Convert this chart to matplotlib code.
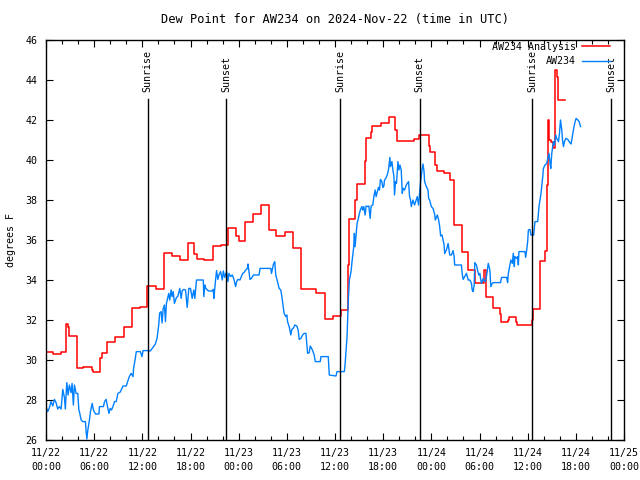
import matplotlib
matplotlib.use('Agg')
import matplotlib.pyplot as plt
import matplotlib.dates as mdates
import pandas as pd

# Data: hours after 2024-11-22 00:00 UTC, dew point in degrees F
start = pd.Timestamp('2024-11-22 00:00')

# AW234 Analysis (hourly, step plot)
ana_hours = [0.00, 0.84, 1.84, 2.46, 2.75, 2.88, 3.84, 3.91, 4.66, 5.79, 5.91, 6.75, 6.96,
             7.66, 8.62, 9.66, 10.71, 11.66, 12.62, 13.75, 14.66, 15.71, 16.75, 17.75, 18.38,
             18.75, 19.62, 20.75, 21.75, 22.69, 23.62, 24.00, 24.75, 25.75, 26.75, 27.75,
             28.62, 29.75, 30.75, 31.75, 33.62, 34.75, 35.75, 36.75, 37.62, 37.75, 38.50,
             38.75, 39.75, 39.81, 40.50, 40.62, 41.75, 42.75, 43.50, 43.75, 45.88, 46.50,
             47.75, 47.88, 48.50, 48.75, 49.62, 50.38, 50.88, 51.88, 52.62, 53.50, 54.59,
             54.75, 55.62, 56.50, 56.62, 57.50, 57.62, 58.50, 58.62, 60.50, 60.62, 61.50,
             62.12, 62.44, 62.56, 62.69, 62.88, 63.12, 63.44, 63.62, 63.75, 64.62]
ana_dewpt = [30.42, 30.30, 30.40, 31.80, 31.67, 31.20, 30.00, 29.60, 29.65, 29.50, 29.40, 30.10, 30.37,
             30.92, 31.15, 31.65, 32.60, 32.65, 33.70, 33.53, 35.33, 35.20, 35.00, 35.83, 35.30,
             35.05, 34.98, 35.70, 35.75, 36.58, 36.20, 35.95, 36.88, 37.30, 37.73, 36.50,
             36.22, 36.42, 35.58, 33.55, 33.37, 32.03, 32.20, 32.50, 34.75, 37.05, 38.00,
             38.80, 39.95, 41.08, 41.40, 41.70, 41.87, 42.13, 41.50, 40.95, 41.03, 41.25,
             40.70, 40.42, 39.75, 39.45, 39.37, 39.00, 36.75, 35.42, 34.50, 33.87, 34.50,
             33.17, 32.58, 32.30, 31.88, 32.00, 32.13, 31.90, 31.75, 32.00, 32.53, 34.95,
             35.45, 38.75, 42.00, 41.00, 40.92, 40.58, 44.50, 44.13, 43.00, 43.00]

# AW234 observations
obs_hours = [0.00, 0.21, 0.41, 0.62, 0.84, 1.04, 1.25, 1.46, 1.66, 1.88, 2.09, 2.29, 2.41, 2.59,
             2.75, 2.91, 3.12, 3.25, 3.41, 3.54, 3.75, 3.96, 4.09, 4.16, 4.38, 4.59, 4.91, 5.00,
             5.09, 5.21, 5.41, 5.54, 5.75, 5.91, 6.16, 6.59, 6.66, 7.16, 7.29, 7.50, 7.62, 7.84,
             8.00, 8.16, 8.34, 8.54, 8.75, 8.96, 9.25, 9.59, 10.00, 10.21, 10.41, 10.62, 10.84,
             10.91, 11.09, 11.25, 11.75, 11.96, 12.09, 12.62, 13.00, 13.38, 13.62, 13.84, 14.04,
             14.16, 14.34, 14.46, 14.59, 14.75, 14.88, 15.00, 15.29, 15.41, 15.59, 15.71, 15.84,
             16.00, 16.25, 16.41, 16.66, 16.84, 16.96, 17.16, 17.38, 17.59, 17.79, 18.00, 18.21,
             18.41, 18.54, 18.75, 19.59, 19.66, 19.79, 19.91, 20.09, 20.29, 20.71, 20.84, 20.91,
             21.12, 21.25, 21.41, 21.54, 21.75, 21.96, 22.09, 22.25, 22.50, 22.66, 22.79, 23.00,
             23.21, 23.41, 23.62, 23.75, 23.91, 24.16, 24.34, 24.50, 24.66, 24.88, 25.09, 25.16,
             25.29, 25.41, 25.59, 25.84, 26.54, 26.66, 28.00, 28.09, 28.34, 28.50, 28.62, 28.84,
             29.04, 29.25, 29.38, 29.66, 29.88, 30.00, 30.09, 30.29, 30.50, 30.62, 30.79, 31.00,
             31.25, 31.41, 31.54, 31.75, 31.96, 32.16, 32.38, 32.59, 32.79, 32.91, 33.09, 33.21,
             33.41, 33.54, 34.16, 34.25, 35.16, 35.29, 36.12, 36.25, 37.16, 37.25, 37.50, 37.66,
             37.79, 38.00, 38.12, 38.34, 38.41, 38.50, 38.62, 38.75, 38.91, 39.04, 39.16, 39.34,
             39.46, 39.59, 39.75, 39.88, 40.09, 40.21, 40.38, 40.50, 40.71, 40.84, 41.00, 41.12,
             41.25, 41.41, 41.54, 41.66, 41.84, 41.96, 42.09, 42.16, 42.38, 42.50, 42.66, 42.84,
             42.91, 43.09, 43.21, 43.34, 43.41, 43.54, 43.66, 43.84, 43.96, 44.09, 44.25, 44.38,
             44.50, 44.66, 44.88, 45.00, 45.16, 45.29, 45.41, 45.50, 45.71, 45.91, 46.12, 46.25,
             46.41, 46.54, 46.66, 46.84, 46.96, 47.09, 47.16, 47.38, 47.59, 47.66, 47.79, 48.00,
             48.21, 48.41, 48.50, 48.75, 48.91, 49.04, 49.16, 49.34, 49.46, 49.59, 49.66, 49.75,
             49.88, 50.09, 50.29, 50.50, 50.71, 50.84, 50.91, 51.75, 51.84, 51.96, 52.16, 52.38,
             52.59, 52.79, 53.00, 53.09, 53.21, 53.34, 53.41, 53.62, 53.75, 53.91, 54.04, 54.16,
             54.25, 54.46, 54.59, 54.75, 54.88, 55.09, 55.29, 55.41, 55.59, 55.71, 56.62, 56.75,
             57.38, 57.50, 57.59, 57.79, 57.91, 58.09, 58.21, 58.34, 58.41, 58.62, 58.75, 58.84,
             58.91, 59.66, 59.75, 59.88, 60.00, 60.09, 60.29, 60.41, 60.75, 60.91, 61.25, 61.41,
             61.66, 61.88, 61.96, 62.16, 62.38, 62.50, 62.66, 62.79, 62.88, 63.00, 63.21, 63.34,
             63.50, 63.62, 63.84, 63.96, 64.09, 64.25, 64.34, 64.46, 64.59, 64.75, 65.00, 65.16,
             65.41, 65.59, 65.75, 65.91, 66.04, 66.25, 66.41, 66.59]
obs_dewpt = [27.67, 27.42, 27.60, 27.92, 27.70, 28.03, 27.87, 27.55, 27.67, 27.55, 28.53, 28.13, 27.55, 28.87,
             28.25, 28.75, 28.37, 28.83, 27.75, 28.75, 28.33, 28.33, 27.50, 27.42, 27.00, 26.92, 26.92, 26.42,
             26.05, 26.50, 27.00, 27.42, 27.83, 27.50, 27.30, 27.30, 27.67, 27.67, 27.92, 28.03, 27.75, 27.33,
             27.58, 27.50, 27.67, 27.92, 27.92, 28.33, 28.40, 28.70, 28.70, 28.97, 29.20, 29.33, 29.17,
             29.58, 30.00, 30.42, 30.42, 30.17, 30.47, 30.47, 30.45, 30.67, 30.80, 31.10, 31.75,
             32.35, 32.42, 31.85, 32.55, 32.75, 31.92, 32.83, 33.33, 33.00, 33.50, 33.17, 33.42,
             32.83, 33.13, 33.17, 33.58, 33.08, 33.47, 33.53, 33.50, 32.63, 33.58, 33.58, 33.08,
             33.50, 33.08, 34.00, 34.00, 33.17, 33.75, 33.58, 33.50, 33.45, 33.45, 33.53, 33.08,
             34.00, 34.47, 34.03, 34.25, 34.42, 34.00, 34.45, 34.13, 34.42, 33.92, 34.33, 34.17,
             34.25, 34.03, 33.67, 33.92, 34.03, 34.00, 34.17, 34.33, 34.37, 34.50, 34.58, 34.80,
             34.42, 34.03, 34.08, 34.25, 34.25, 34.58, 34.58, 34.33, 34.80, 34.92, 34.25, 33.92,
             33.58, 33.50, 33.17, 32.33, 32.17, 32.25, 31.92, 31.67, 31.25, 31.53, 31.58, 31.75,
             31.70, 31.50, 31.03, 31.08, 31.25, 31.33, 31.33, 30.33, 30.37, 30.70, 30.58, 30.47,
             30.25, 29.92, 29.92, 30.17, 30.17, 29.25, 29.20, 29.42, 29.42, 29.75, 31.17, 33.00,
             34.00, 34.42, 34.92, 35.67, 36.33, 35.67, 36.25, 36.83, 37.08, 37.33, 37.50, 37.67,
             37.50, 37.67, 37.25, 37.70, 37.67, 37.70, 37.08, 37.70, 37.75, 38.17, 38.50, 38.17,
             38.37, 38.63, 38.50, 39.03, 38.92, 38.63, 38.70, 38.97, 39.13, 39.25, 39.50, 40.13,
             39.67, 39.92, 39.50, 39.20, 38.25, 38.92, 38.83, 39.92, 39.50, 39.75, 39.50, 38.33,
             38.58, 38.50, 38.75, 38.83, 38.92, 38.17, 38.00, 37.67, 38.00, 37.75, 38.00, 38.17,
             37.75, 38.33, 38.92, 39.50, 39.80, 39.42, 38.92, 38.67, 38.50, 38.08, 38.00, 37.67,
             37.58, 37.30, 37.00, 37.25, 37.00, 36.67, 36.20, 36.25, 36.00, 35.75, 35.33, 35.42,
             35.50, 35.83, 35.25, 35.25, 35.47, 35.17, 34.75, 34.75, 34.33, 34.03, 34.17, 34.33,
             34.00, 34.00, 33.83, 33.50, 33.42, 33.75, 34.87, 34.75, 34.50, 34.25, 34.33, 34.00,
             33.83, 34.08, 33.97, 33.92, 34.20, 34.83, 34.50, 33.67, 33.83, 33.87, 33.87, 34.13,
             34.13, 33.87, 34.33, 34.75, 35.00, 34.83, 35.33, 34.67, 35.17, 35.08, 35.17, 34.75,
             35.42, 35.42, 35.13, 35.50, 35.92, 36.50, 36.53, 36.25, 36.25, 36.92, 36.92, 37.67,
             38.33, 39.17, 39.58, 39.75, 39.83, 40.08, 40.33, 39.83, 39.58, 40.33, 40.92, 40.75,
             41.25, 41.08, 40.92, 41.33, 42.00, 41.50, 41.00, 40.67, 40.92, 41.08, 41.03, 40.92,
             40.80, 41.25, 41.63, 41.92, 42.08, 42.00, 41.92, 41.67]

# Sunrise / sunset times (hours after start)
sun_hours = [12.67, 22.46, 36.67, 46.54, 60.58, 70.42]
sun_labels = ['Sunrise', 'Sunset', 'Sunrise', 'Sunset', 'Sunrise', 'Sunset']

ana_time = start + pd.to_timedelta(ana_hours, unit='h')
obs_time = start + pd.to_timedelta(obs_hours, unit='h')
sun_time = start + pd.to_timedelta(sun_hours, unit='h')

plt.rcParams['font.family'] = ['DejaVu Sans Mono']
plt.rcParams['font.size'] = 7.2

fig = plt.figure(figsize=(6.4, 4.8), dpi=100)
ax = fig.add_axes([46 / 640, 40 / 480, 578 / 640, 400 / 480])

ax.step(ana_time, ana_dewpt, where='post', color='#ff0000', lw=1.1, label='AW234 Analysis')
ax.plot(obs_time, obs_dewpt, color='#0080ff', lw=1.0, label='AW234')

for t, lab in zip(sun_time, sun_labels):
    ax.plot([t, t], [26, 43.05], color='black', lw=1.0)
    ax.text(t, 43.4, lab, rotation=90, ha='center', va='bottom')

ax.set_xlim(start, start + pd.Timedelta(hours=72))
ax.set_ylim(26, 46)
ax.set_yticks(range(26, 47, 2))

ax.xaxis.set_major_locator(mdates.HourLocator(byhour=[0, 6, 12, 18]))
ax.xaxis.set_minor_locator(mdates.HourLocator(byhour=range(0, 24, 2)))
ax.xaxis.set_major_formatter(mdates.DateFormatter('%m/%d\n%H:%M'))
for lbl in ax.get_xticklabels():
    lbl.set_linespacing(1.45)

ax.tick_params(which='both', direction='in', top=True, right=True, width=0.8)
ax.tick_params(which='major', length=5, pad=6)
ax.tick_params(which='minor', length=3)
for sp in ax.spines.values():
    sp.set_linewidth(1.0)

ax.set_ylabel('degrees F', labelpad=7)
ax.set_title('Dew Point for AW234 on 2024-Nov-22 (time in UTC)', pad=12)

ax.legend(loc='upper right', bbox_to_anchor=(1 - 14 / 578, 1 - 2 / 400), frameon=False,
          markerfirst=False, handlelength=2.8, handletextpad=0.6, labelspacing=0.45,
          borderpad=0, borderaxespad=0)

plt.savefig('out.png', dpi=100)
